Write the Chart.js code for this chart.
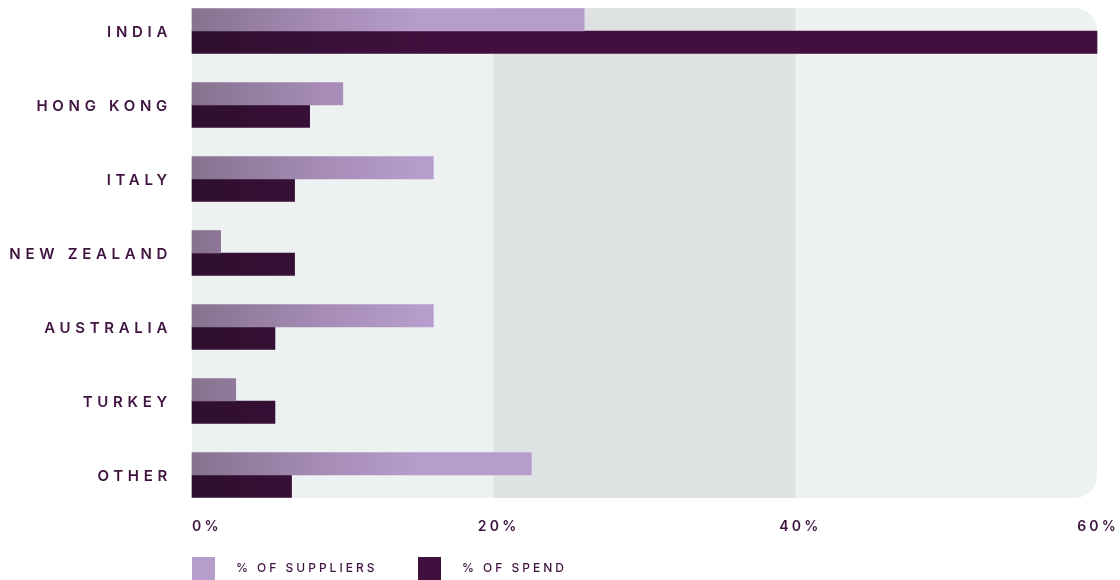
<!DOCTYPE html>
<html>
<head>
<meta charset="utf-8">
<script src="https://cdn.jsdelivr.net/npm/chart.js@4"></script>
<style>
  html, body { margin: 0; padding: 0; background: #fff; }
  #wrap { width: 1120px; height: 580px; }
</style>
</head>
<body>
<div id="wrap"><canvas id="supplier-chart" width="1120" height="580"></canvas></div>
<script>
var countries = ['INDIA', 'HONG KONG', 'ITALY', 'NEW ZEALAND', 'AUSTRALIA', 'TURKEY', 'OTHER'];
var suppliersPct = [26, 10, 16, 1.9, 16, 2.9, 22.5];
var spendPct = [60, 7.8, 6.8, 6.8, 5.5, 5.5, 6.6];
var xTicks = [0, 20, 40, 60];
var seriesNames = ['% OF SUPPLIERS', '% OF SPEND'];

var labelColor = '#3f1440';
var lavender = '#b79dcb';
var plum = '#42103f';

function supplierFill(ctx) {
  var chart = ctx.chart;
  var area = chart.chartArea;
  if (!area) return lavender;
  var g = chart.ctx.createLinearGradient(area.left, 0, area.left + 230, 0);
  g.addColorStop(0, '#86728f');
  g.addColorStop(0.55, '#a58bb5');
  g.addColorStop(1, lavender);
  return g;
}

function spendFill(ctx) {
  var chart = ctx.chart;
  var area = chart.chartArea;
  if (!area) return plum;
  var g = chart.ctx.createLinearGradient(area.left, 0, area.left + 260, 0);
  g.addColorStop(0, '#2f0f2f');
  g.addColorStop(1, plum);
  return g;
}

// panel behind the bars, with the 20-40% band
var panelPlugin = {
  id: 'panel',
  beforeDatasetsDraw: function(chart) {
    var c = chart.ctx, x = chart.scales.x, y = chart.scales.y;
    var half = 23;
    var top = y.getPixelForValue(0) - half;
    var bottom = y.getPixelForValue(countries.length - 1) + half;
    var left = x.getPixelForValue(0), right = x.getPixelForValue(60);
    var r = 22;
    c.save();
    c.beginPath();
    c.moveTo(left, top);
    c.lineTo(right - r, top);
    c.arcTo(right, top, right, top + r, r);
    c.lineTo(right, bottom - r);
    c.arcTo(right, bottom, right - r, bottom, r);
    c.lineTo(left, bottom);
    c.closePath();
    c.fillStyle = '#eef1f2';
    c.fill();
    c.fillStyle = '#dfe2e3';
    c.fillRect(x.getPixelForValue(20), top, x.getPixelForValue(40) - x.getPixelForValue(20), bottom - top);
    c.restore();
  },
  afterDraw: function(chart) {
    var c = chart.ctx, x = chart.scales.x, y = chart.scales.y;
    c.save();
    c.fillStyle = labelColor;
    c.textBaseline = 'middle';

    // category labels
    c.font = '600 15px Inter, "Noto Sans", sans-serif';
    c.letterSpacing = '4.7px';
    c.textAlign = 'right';
    countries.forEach(function(name, i) {
      c.fillText(name, 172, y.getPixelForValue(i) + 1.5);
    });

    // x tick labels
    c.font = '600 14px Inter, "Noto Sans", sans-serif';
    c.letterSpacing = '3.2px';
    xTicks.forEach(function(v, i) {
      var px = x.getPixelForValue(v);
      var txt = v + '%';
      if (i === 0) { c.textAlign = 'left'; c.fillText(txt, px, 527); }
      else if (i === xTicks.length - 1) { c.textAlign = 'right'; c.fillText(txt, px + 22, 527); }
      else { c.textAlign = 'center'; c.fillText(txt, px + 5, 527); }
    });

    // legend
    c.font = '500 12px Inter, "Noto Sans", sans-serif';
    c.letterSpacing = '3px';
    c.textAlign = 'left';
    var swatch = [lavender, plum];
    var lx = [192, 418];
    seriesNames.forEach(function(name, i) {
      c.fillStyle = swatch[i];
      c.fillRect(lx[i], 557, 23, 23);
      c.fillStyle = labelColor;
      c.fillText(name, lx[i] + 44, 568);
    });
    c.restore();
  }
};

var ctx = document.getElementById('supplier-chart').getContext('2d');
var chart = new Chart(ctx, {
  type: 'bar',
  data: {
    labels: countries,
    datasets: [
      { label: seriesNames[0], data: suppliersPct, backgroundColor: supplierFill, barThickness: 22.5, clip: false },
      { label: seriesNames[1], data: spendPct, backgroundColor: spendFill, barThickness: 22.5, clip: false }
    ]
  },
  options: {
    indexAxis: 'y',
    responsive: false,
    animation: false,
    layout: { padding: { left: 192, right: 23, top: 31, bottom: 105 } },
    plugins: { legend: { display: false }, tooltip: { enabled: false } },
    scales: {
      x: { display: false, min: 0, max: 60 },
      y: { display: false, offset: false }
    }
  },
  plugins: [panelPlugin]
});
</script>
</body>
</html>
